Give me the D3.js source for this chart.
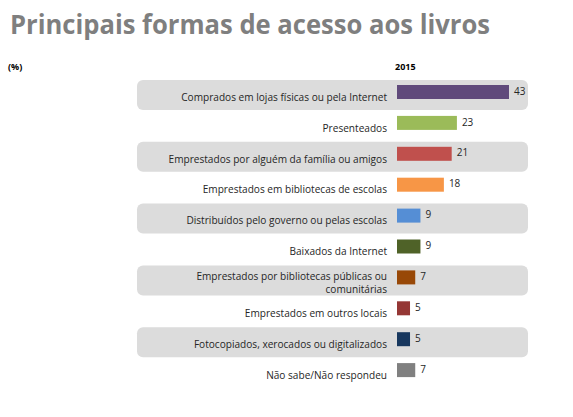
<!DOCTYPE html>
<html><head><meta charset="utf-8">
<script src="https://cdn.jsdelivr.net/npm/d3@7"></script>
<style>body{margin:0;background:#fff}svg{display:block}</style>
</head><body>
<script>
const categories = [
  ["Comprados em lojas físicas ou pela Internet"],
  ["Presenteados"],
  ["Emprestados por alguém da família ou amigos"],
  ["Emprestados em bibliotecas de escolas"],
  ["Distribuídos pelo governo ou pelas escolas"],
  ["Baixados da Internet"],
  ["Emprestados por bibliotecas públicas ou", "comunitárias"],
  ["Emprestados em outros locais"],
  ["Fotocopiados, xerocados ou digitalizados"],
  ["Não sabe/Não respondeu"]
];
const values2015 = [43, 23, 21, 18, 9, 9, 7, 5, 5, 7];
const colors = ["#604a7b","#9bbb59","#c0504d","#f79646","#558ed5","#4f6228","#984807","#953735","#17375e","#808080"];
const title = "Principais formas de acesso aos livros";
const unitLabel = "(%)";
const yearLabel = "2015";

const W = 573, H = 417;
const svg = d3.select("body").append("svg").attr("width", W).attr("height", H);
const font = "'Open Sans', sans-serif";

svg.append("text").attr("x", 10).attr("y", 34)
  .attr("font-family", font).attr("font-weight", 700).attr("font-size", 26)
  .attr("fill", "#7f7f7f").attr("textLength", 480).attr("lengthAdjust", "spacingAndGlyphs")
  .text(title);

svg.append("text").attr("x", 8).attr("y", 70).attr("font-family", font)
  .attr("font-weight", 700).attr("font-size", 9).attr("fill", "#000").text(unitLabel);
svg.append("text").attr("x", 395).attr("y", 70).attr("font-family", font)
  .attr("font-weight", 700).attr("font-size", 9).attr("fill", "#000").text(yearLabel);

const idx = d3.range(categories.length);
const y = d3.scaleBand().domain(idx).range([80, 80 + 30.9 * categories.length]).padding(0);
const x = d3.scaleLinear().domain([0, 43]).range([397, 509]);

const g = svg.append("g");
g.selectAll("rect.band").data(idx.filter(i => i % 2 === 0)).join("rect")
  .attr("class", "band").attr("x", 137).attr("width", 391)
  .attr("y", i => y(i)).attr("height", 30).attr("rx", 6).attr("fill", "#dcdcdc");

g.selectAll("rect.bar").data(idx).join("rect")
  .attr("class", "bar").attr("x", x(0)).attr("y", i => y(i) + 5)
  .attr("width", i => x(values2015[i]) - x(0)).attr("height", 14)
  .attr("fill", i => colors[i]);

g.selectAll("text.val").data(idx).join("text")
  .attr("class", "val").attr("x", i => x(values2015[i]) + 5).attr("y", i => y(i) + 12)
  .attr("dominant-baseline", "middle").attr("font-family", font).attr("font-size", 10)
  .attr("fill", "#262626").text(i => values2015[i]);

const lab = g.selectAll("text.lab").data(idx).join("text")
  .attr("class", "lab").attr("text-anchor", "end").attr("font-family", font)
  .attr("font-size", 10.1).attr("fill", "#262626");
lab.each(function(i) {
  const lines = categories[i];
  const t = d3.select(this);
  const c = y(i) + (lines.length > 1 ? 18.5 : 18);
  const lh = 13.5;
  lines.forEach((s, k) => {
    t.append("tspan").attr("x", 387)
      .attr("y", c + (k - (lines.length - 1) / 2) * lh)
      .attr("dominant-baseline", "middle").text(s);
  });
});
</script>
</body></html>
